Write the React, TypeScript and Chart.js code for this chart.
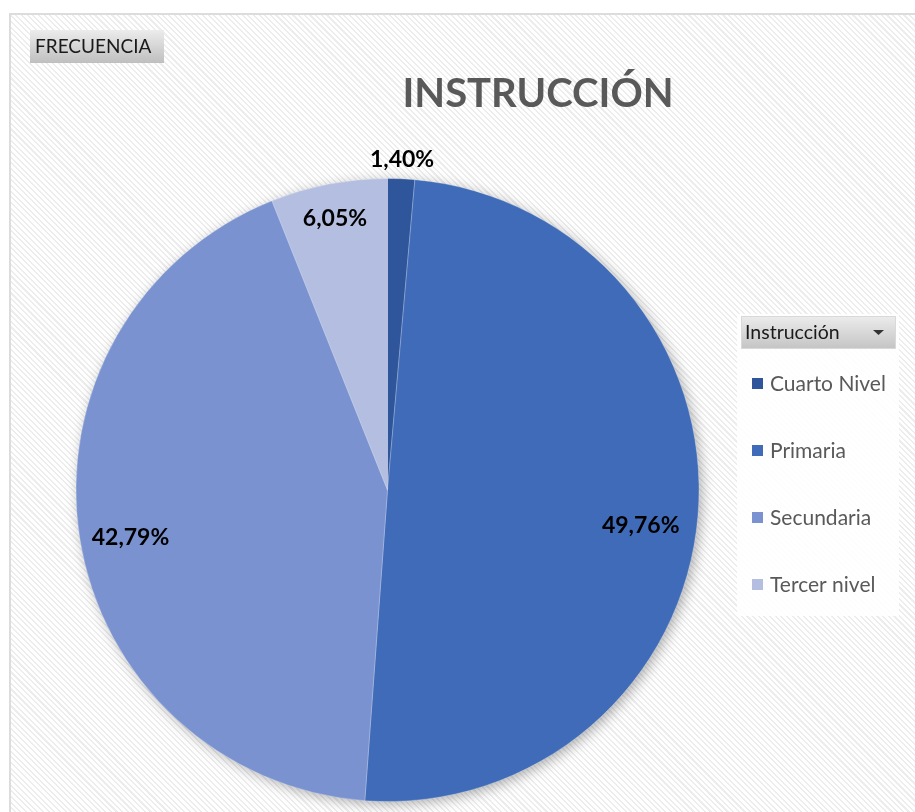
import React, { useEffect, useRef } from "react";
import { Chart, registerables } from "chart.js";

Chart.register(...registerables);

const TITLE = "INSTRUCCIÓN";
const FIELD_BUTTON = "FRECUENCIA";
const LEGEND_HEADER = "Instrucción";
const categories = ["Cuarto Nivel", "Primaria", "Secundaria", "Tercer nivel"];
const percentages = [1.4, 49.76, 42.79, 6.05];
const sliceColors = ["#2F559B", "#3F6BB8", "#7A92CF", "#B3BEE0"];

// label placement (Excel "best fit"): radius factor and angular nudge in degrees
const LABEL_RADIUS = [1.065, 0.82, 0.838, 0.893];
const LABEL_ANGLE_NUDGE = [0, 3, -1.3, 0];
const FONT = "Lato, 'Open Sans', sans-serif";

function fmt(v: number) {
  return v.toFixed(2).replace(".", ",") + "%";
}

const decorPlugin = {
  id: "decor",
  beforeDatasetsDraw(chart: any) {
    const meta = chart.getDatasetMeta(0);
    const a = meta.data[0];
    if (!a) return;
    const ctx = chart.ctx;
    ctx.save();
    ctx.shadowColor = "rgba(0,0,0,0.35)";
    ctx.shadowBlur = 14;
    ctx.shadowOffsetX = 3;
    ctx.shadowOffsetY = 3;
    ctx.fillStyle = "#7A92CF";
    ctx.beginPath();
    ctx.arc(a.x, a.y, a.outerRadius - 1, 0, Math.PI * 2);
    ctx.fill();
    ctx.restore();
  },
  afterDatasetsDraw(chart: any) {
    const ctx = chart.ctx;
    const meta = chart.getDatasetMeta(0);
    ctx.save();
    ctx.fillStyle = "#000000";
    ctx.font = `bold 23px ${FONT}`;
    ctx.textAlign = "center";
    ctx.textBaseline = "middle";
    meta.data.forEach((arc: any, i: number) => {
      const mid = (arc.startAngle + arc.endAngle) / 2 + (LABEL_ANGLE_NUDGE[i] * Math.PI) / 180;
      const r = arc.outerRadius * LABEL_RADIUS[i];
      ctx.fillText(fmt(percentages[i]), arc.x + Math.cos(mid) * r, arc.y + Math.sin(mid) * r + 1.5);
    });
    ctx.restore();
  },
  afterDraw(chart: any) {
    const ctx = chart.ctx;
    ctx.save();
    // title
    ctx.fillStyle = "#595959";
    ctx.font = `bold 40px ${FONT}`;
    ctx.textAlign = "center";
    ctx.textBaseline = "alphabetic";
    ctx.fillText(TITLE, 538, 107);

    // field button
    let g = ctx.createLinearGradient(0, 30, 0, 63);
    g.addColorStop(0, "#ececec");
    g.addColorStop(1, "#bfbfbf");
    ctx.fillStyle = g;
    ctx.fillRect(30, 30, 134, 33);
    ctx.fillStyle = "#1a1a1a";
    ctx.font = `19px ${FONT}`;
    ctx.textAlign = "left";
    ctx.textBaseline = "middle";
    ctx.fillText(FIELD_BUTTON, 35, 47);

    // legend
    ctx.fillStyle = "rgba(255,255,255,0.85)";
    ctx.fillRect(737, 314, 162, 302);
    g = ctx.createLinearGradient(0, 316, 0, 349);
    g.addColorStop(0, "#ececec");
    g.addColorStop(1, "#c4c4c4");
    ctx.fillStyle = g;
    ctx.fillRect(741, 316, 155, 33);
    ctx.strokeStyle = "#d9d9d9";
    ctx.lineWidth = 1;
    ctx.strokeRect(741.5, 316.5, 154, 32);
    ctx.fillStyle = "#1a1a1a";
    ctx.font = `19.5px ${FONT}`;
    ctx.fillText(LEGEND_HEADER, 745, 333);
    ctx.fillStyle = "#333333";
    ctx.beginPath();
    ctx.moveTo(873, 330);
    ctx.lineTo(884, 330);
    ctx.lineTo(878.5, 335);
    ctx.closePath();
    ctx.fill();

    ctx.font = `21px ${FONT}`;
    categories.forEach((c, i) => {
      const y = 383 + i * 67;
      ctx.fillStyle = sliceColors[i];
      ctx.fillRect(752, y - 5, 11, 11);
      ctx.fillStyle = "#595959";
      ctx.fillText(c, 770, y + 1);
    });
    ctx.restore();
  },
};

export default function App() {
  const ref = useRef<HTMLCanvasElement | null>(null);
  useEffect(() => {
    document.body.style.margin = "0";
    const chart = new Chart(ref.current as HTMLCanvasElement, {
      type: "pie",
      data: {
        labels: categories,
        datasets: [
          {
            data: percentages,
            backgroundColor: sliceColors,
            borderColor: "rgba(255,255,255,0.25)",
            borderWidth: 1,
          },
        ],
      },
      options: {
        animation: false,
        responsive: false,
        events: [],
        layout: { padding: { left: 75.5, right: 215.5, top: 178, bottom: 10 } },
        plugins: {
          legend: { display: false },
          tooltip: { enabled: false },
          title: { display: false },
        },
      },
      plugins: [decorPlugin],
    });
    return () => chart.destroy();
  }, []);

  return (
    <div style={{ position: "relative", width: 915, height: 812, background: "#ffffff", overflow: "hidden" }}>
      <div
        style={{
          position: "absolute",
          left: 9,
          top: 13,
          width: 920,
          height: 820,
          border: "2px solid #dcdcdc",
          background:
            "repeating-linear-gradient(45deg, #ffffff 0px, #ffffff 2.5px, #ededed 2.5px, #ededed 4px)",
        }}
      />
      <canvas ref={ref} width={915} height={812} style={{ position: "absolute", left: 0, top: 0 }} />
    </div>
  );
}
